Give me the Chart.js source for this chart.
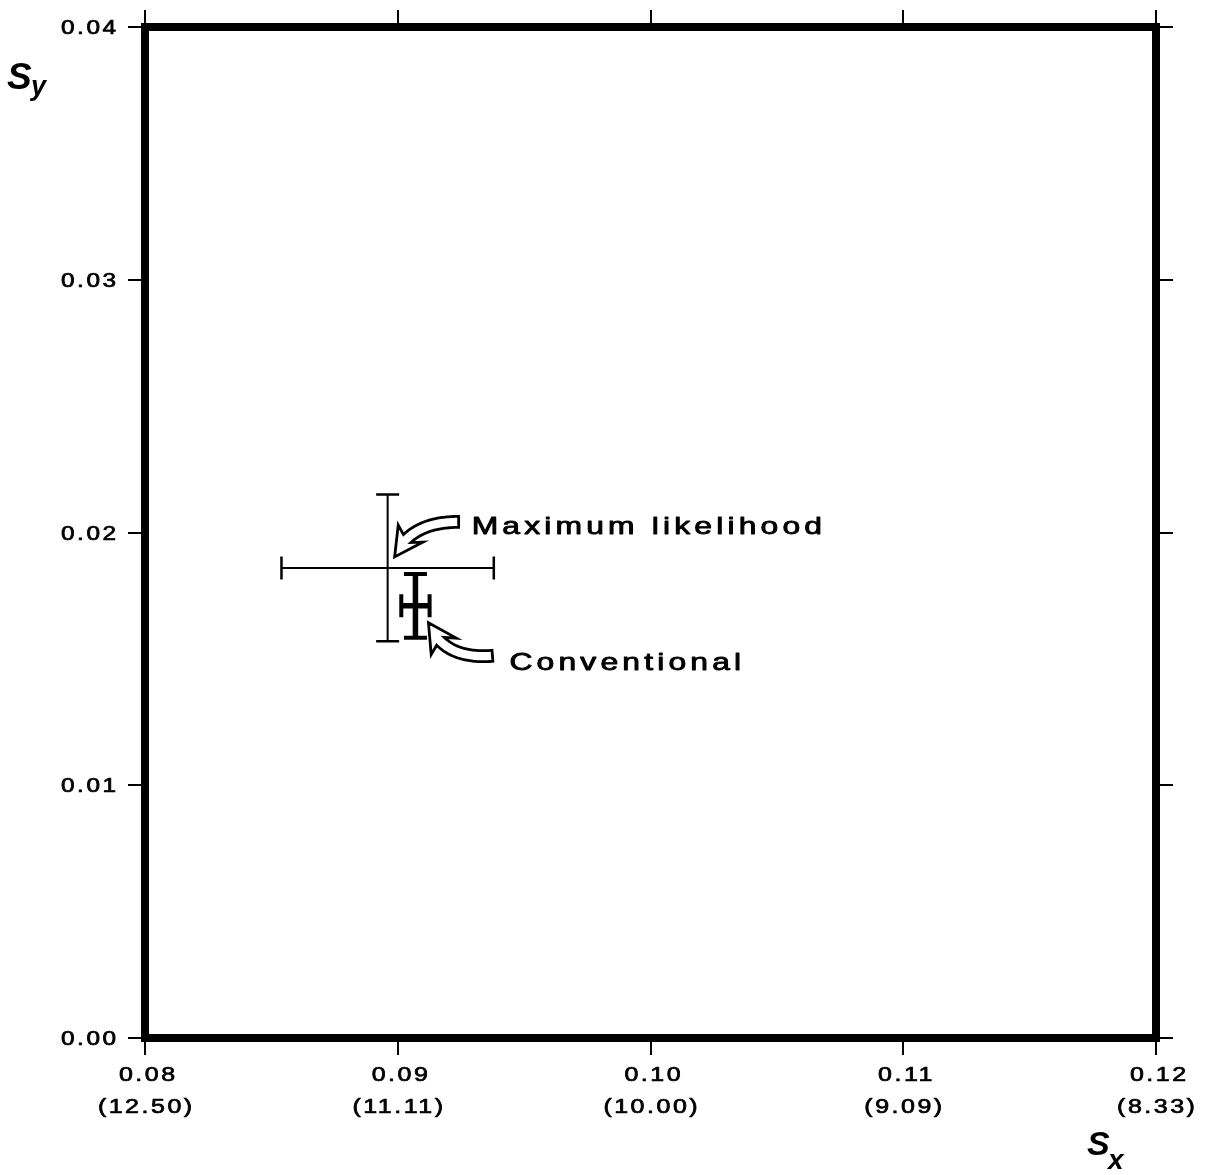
<!DOCTYPE html>
<html>
<head>
<meta charset="utf-8">
<script src="https://cdn.jsdelivr.net/npm/chart.js@4.4.1/dist/chart.umd.min.js"></script>
<style>
  html, body { margin: 0; padding: 0; background: #fff; }
  #wrap { width: 1206px; height: 1175px; }
</style>
</head>
<body>
<div id="wrap"><canvas id="chart"></canvas></div>
<script>
// estimates of the two spectral parameters with their standard errors
const seriesNames = ["Maximum likelihood", "Conventional"];
const sxValues = [0.0896, 0.0907];
const syValues = [0.0186, 0.0171];
const sxErrors = [0.0042, 0.00056];
const syErrors = [0.0029, 0.00126];

const xTicks = [0.08, 0.09, 0.10, 0.11, 0.12];
const xTickPeriods = ["(12.50)", "(11.11)", "(10.00)", "(9.09)", "(8.33)"];
const yTicks = [0.00, 0.01, 0.02, 0.03, 0.04];

const FONT = "'Liberation Sans', Arial, Helvetica, sans-serif";

// bar thickness per series: thin for ML, heavy for conventional
const barWidths = [2, 5.5];
const capWidths = [2.5, 4];

// where each series' curved arrow and label sit, relative to its point (px)
const calloutOffsets = [
  { tail: [71, -46], ctrl: [22, -46], tip: [7, -11], text: [84, -34] },
  { tail: [77, 50], ctrl: [28, 54], tip: [13, 17], text: [94, 64] }
];

// the lettering is a wide, fairly heavy sans: stretch it and thicken it a little
function wideText(ctx, str, x, y, size, stretch, spacing, align, weight) {
  ctx.save();
  ctx.font = size + 'px ' + FONT;
  ctx.letterSpacing = spacing + 'px';
  const w = (ctx.measureText(str).width - spacing) * stretch;
  const x0 = align === 'right' ? x - w : align === 'center' ? x - w / 2 : x;
  ctx.translate(x0, y);
  ctx.scale(stretch, 1);
  ctx.fillStyle = '#000';
  ctx.strokeStyle = '#000';
  ctx.lineWidth = weight;
  ctx.lineJoin = 'round';
  ctx.textAlign = 'left';
  ctx.textBaseline = 'alphabetic';
  ctx.fillText(str, 0, 0);
  if (weight > 0) ctx.strokeText(str, 0, 0);
  ctx.restore();
}

function tickLabel(scale, i) {
  const t = scale.ticks[i];
  if (t.label !== undefined) return t.label;
  return scale.options.ticks.callback.call(scale, t.value, i, scale.ticks);
}

const tickLabels = {
  id: 'tickLabels',
  afterDraw(chart) {
    const ctx = chart.ctx;
    const a = chart.chartArea;
    const xs = chart.scales.x, ys = chart.scales.y;
    ys.ticks.forEach((t, i) => {
      wideText(ctx, tickLabel(ys, i), a.left - 29, ys.getPixelForTick(i) + 7, 19.5, 1.25, 2, 'right', 0.7);
    });
    xs.ticks.forEach((t, i) => {
      const lines = tickLabel(xs, i);
      const px = xs.getPixelForTick(i);
      wideText(ctx, lines[0], px + 2, a.bottom + 43, 20, 1.25, 2, 'center', 0.7);
      wideText(ctx, lines[1], px, a.bottom + 75, 20, 1.25, 2, 'center', 0.7);
    });
  }
};

const errorBars = {
  id: 'errorBars',
  afterDatasetsDraw(chart) {
    const ctx = chart.ctx;
    const xs = chart.scales.x, ys = chart.scales.y;
    chart.data.datasets.forEach((ds, di) => {
      ds.data.forEach(p => {
        const cx = xs.getPixelForValue(p.x), cy = ys.getPixelForValue(p.y);
        const xl = xs.getPixelForValue(p.x - p.xErr), xr = xs.getPixelForValue(p.x + p.xErr);
        const yt = ys.getPixelForValue(p.y + p.yErr), yb = ys.getPixelForValue(p.y - p.yErr);
        const cap = 11.5;
        ctx.save();
        ctx.strokeStyle = '#000';
        ctx.lineCap = 'butt';
        ctx.lineWidth = barWidths[di];
        ctx.beginPath();
        ctx.moveTo(xl, cy); ctx.lineTo(xr, cy);
        ctx.moveTo(cx, yt); ctx.lineTo(cx, yb);
        ctx.stroke();
        ctx.lineWidth = capWidths[di];
        ctx.beginPath();
        ctx.moveTo(xl, cy - cap); ctx.lineTo(xl, cy + cap);
        ctx.moveTo(xr, cy - cap); ctx.lineTo(xr, cy + cap);
        ctx.moveTo(cx - cap, yt); ctx.lineTo(cx + cap, yt);
        ctx.moveTo(cx - cap, yb); ctx.lineTo(cx + cap, yb);
        ctx.stroke();
        ctx.restore();
      });
    });
  }
};

// outlined curved arrow: quadratic centre line from tail to tip, swept-back head
function hollowArrow(ctx, t, c, p, shaftW, headW, headLen, sweep) {
  const pt = s => ({
    x: (1 - s) * (1 - s) * t[0] + 2 * (1 - s) * s * c[0] + s * s * p[0],
    y: (1 - s) * (1 - s) * t[1] + 2 * (1 - s) * s * c[1] + s * s * p[1]
  });
  const tan = s => ({
    x: 2 * (1 - s) * (c[0] - t[0]) + 2 * s * (p[0] - c[0]),
    y: 2 * (1 - s) * (c[1] - t[1]) + 2 * s * (p[1] - c[1])
  });
  let sEnd = 1;
  while (sEnd > 0 && Math.hypot(pt(sEnd).x - p[0], pt(sEnd).y - p[1]) < headLen) sEnd -= 0.005;
  const left = [], right = [];
  const n = 40;
  for (let k = 0; k <= n; k++) {
    const s = sEnd * k / n;
    const q = pt(s), d = tan(s);
    const L = Math.hypot(d.x, d.y);
    const nx = -d.y / L, ny = d.x / L;
    left.push([q.x + nx * shaftW / 2, q.y + ny * shaftW / 2]);
    right.push([q.x - nx * shaftW / 2, q.y - ny * shaftW / 2]);
  }
  const b = pt(sEnd);
  const dx = p[0] - b.x, dy = p[1] - b.y, dl = Math.hypot(dx, dy);
  const ux = dx / dl, uy = dy / dl;
  const hx = -uy, hy = ux;
  ctx.beginPath();
  ctx.moveTo(left[0][0], left[0][1]);
  left.forEach(q => ctx.lineTo(q[0], q[1]));
  ctx.lineTo(b.x + hx * headW / 2 - ux * sweep, b.y + hy * headW / 2 - uy * sweep);
  ctx.lineTo(p[0], p[1]);
  ctx.lineTo(b.x - hx * headW / 2 - ux * sweep, b.y - hy * headW / 2 - uy * sweep);
  for (let k = right.length - 1; k >= 0; k--) ctx.lineTo(right[k][0], right[k][1]);
  ctx.closePath();
  ctx.fillStyle = '#fff';
  ctx.fill();
  ctx.stroke();
}

const callouts = {
  id: 'callouts',
  afterDatasetsDraw(chart) {
    const ctx = chart.ctx;
    const xs = chart.scales.x, ys = chart.scales.y;
    chart.data.datasets.forEach((ds, di) => {
      const p = ds.data[0];
      const cx = xs.getPixelForValue(p.x), cy = ys.getPixelForValue(p.y);
      const o = calloutOffsets[di];
      const at = v => [cx + v[0], cy + v[1]];
      ctx.save();
      ctx.strokeStyle = '#000';
      ctx.lineWidth = 2.8;
      ctx.lineJoin = 'miter';
      hollowArrow(ctx, at(o.tail), at(o.ctrl), at(o.tip), 11, 30, 22, 6);
      ctx.restore();
      const tp = at(o.text);
      wideText(ctx, ds.label, tp[0], tp[1], 24.5, 1.3, 3.2, 'left', 0.9);
    });
  }
};

// heavy box round the plotting area plus the S_x / S_y titles
const frame = {
  id: 'frame',
  afterDraw(chart) {
    const ctx = chart.ctx;
    const a = chart.chartArea;
    ctx.save();
    ctx.strokeStyle = '#000';
    ctx.lineWidth = 8;
    ctx.lineJoin = 'miter';
    ctx.strokeRect(a.left, a.top, a.right - a.left, a.bottom - a.top);

    ctx.fillStyle = '#000';
    ctx.textAlign = 'left';
    ctx.textBaseline = 'alphabetic';
    ctx.font = 'italic bold 37px ' + FONT;
    ctx.fillText('S', a.left - 138, a.top + 62);
    ctx.font = 'italic bold 27px ' + FONT;
    ctx.fillText('y', a.left - 114, a.top + 68);

    ctx.font = 'italic bold 34px ' + FONT;
    ctx.fillText('S', a.right - 69, a.bottom + 117);
    ctx.font = 'italic bold 28px ' + FONT;
    ctx.fillText('x', a.right - 48, a.bottom + 131);
    ctx.restore();
  }
};

const tickGrid = {
  display: true,
  drawOnChartArea: false,
  drawTicks: true,
  tickLength: 17,
  lineWidth: 2,
  color: '#000'
};

function fixTicks(values) {
  return scale => { scale.ticks = values.map(v => ({ value: v })); };
}

const datasets = seriesNames.map((name, i) => ({
  label: name,
  data: [{ x: sxValues[i], y: syValues[i], xErr: sxErrors[i], yErr: syErrors[i] }],
  pointRadius: 0,
  showLine: false
}));

new Chart(document.getElementById('chart'), {
  type: 'scatter',
  data: { datasets: datasets },
  options: {
    responsive: true,
    maintainAspectRatio: false,
    animation: false,
    layout: { padding: 0 },
    plugins: { legend: { display: false }, tooltip: { enabled: false } },
    scales: {
      x: {
        type: 'linear', position: 'bottom', min: 0.08, max: 0.12,
        afterBuildTicks: fixTicks(xTicks),
        afterFit: s => { s.height = 137; },
        grid: tickGrid,
        border: { display: false },
        ticks: {
          display: false,
          callback: (v, i) => [v.toFixed(2), xTickPeriods[i]]
        }
      },
      y: {
        type: 'linear', position: 'left', min: 0, max: 0.04,
        afterBuildTicks: fixTicks(yTicks),
        afterFit: s => { s.width = 145; },
        grid: tickGrid,
        border: { display: false },
        ticks: {
          display: false,
          callback: v => v.toFixed(2)
        }
      },
      x2: {
        type: 'linear', axis: 'x', position: 'top', min: 0.08, max: 0.12,
        afterBuildTicks: fixTicks(xTicks),
        afterFit: s => { s.height = 27; },
        grid: tickGrid,
        border: { display: false },
        ticks: { display: false }
      },
      y2: {
        type: 'linear', axis: 'y', position: 'right', min: 0, max: 0.04,
        afterBuildTicks: fixTicks(yTicks),
        afterFit: s => { s.width = 50; },
        grid: tickGrid,
        border: { display: false },
        ticks: { display: false }
      }
    }
  },
  plugins: [frame, errorBars, callouts, tickLabels]
});
</script>
</body>
</html>
